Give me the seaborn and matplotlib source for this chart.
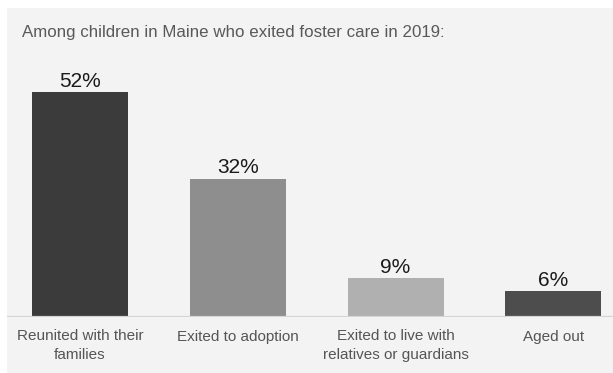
import matplotlib
matplotlib.use("Agg")
import matplotlib.pyplot as plt
import seaborn as sns
import pandas as pd
from matplotlib.patches import Rectangle

categories = ["Reunited with their\nfamilies", "Exited to adoption",
              "Exited to live with\nrelatives or guardians", "Aged out"]
values = [52, 32, 9, 6]
colors = ["#3b3b3b", "#8e8e8e", "#b0b0b0", "#4d4d4d"]
title = "Among children in Maine who exited foster care in 2019:"

sns.set_theme(style="white")
plt.rcParams['font.family'] = ['Liberation Sans', 'DejaVu Sans']

W, H = 613, 373
fig = plt.figure(figsize=(W / 100, H / 100), dpi=100)
fig.patch.set_facecolor("white")
fig.patches.append(Rectangle((7 / W, 0), 1 - 7 / W, 1 - 8 / H, transform=fig.transFigure,
                             facecolor="#f3f3f3", edgecolor="none", zorder=-10))

base_px = 317
unit = 225 / 52
top_lim = 60
ax = fig.add_axes([7 / W, (H - base_px) / H, 606 / W, top_lim * unit / H])
ax.patch.set_alpha(0)

df = pd.DataFrame({"cat": categories, "val": values})
sns.barplot(data=df, x="cat", y="val", hue="cat", palette=colors, legend=False,
            width=0.608, ax=ax, saturation=1, edgecolor="none")

spacing = 157.8
x0 = 80
ax.set_xlim(-(x0 - 7) / spacing, (613 - x0) / spacing)
ax.set_ylim(0, top_lim)

for c in ax.containers:
    ax.bar_label(c, fmt="%d%%", padding=1, fontsize=15, color="#1a1a1a")

ax.axhline(0, color="#d4d4d4", lw=1.6, zorder=5)
for s in ax.spines.values():
    s.set_visible(False)
ax.set_yticks([])
ax.set_xlabel("")
ax.set_ylabel("")
ax.tick_params(axis="x", length=0, pad=9, labelsize=11, labelcolor="#555555")
for lab in ax.get_xticklabels():
    lab.set_linespacing(1.4)

fig.text(22 / W, 1 - 32 / H, title, ha="left", va="center", fontsize=12.2, color="#595959")

fig.savefig("out.png", dpi=100)
